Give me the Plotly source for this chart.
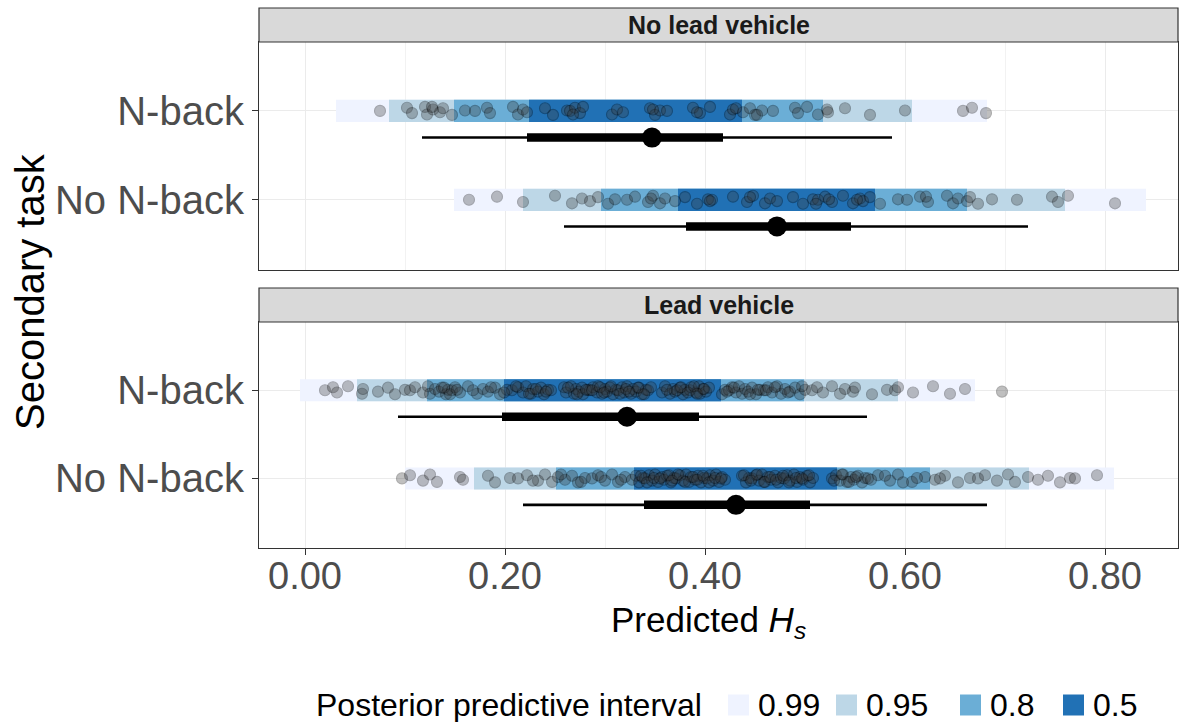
import plotly.graph_objects as go

# ---------------- data ----------------
facets = ["No lead vehicle", "Lead vehicle"]
categories = ["N-back", "No N-back"]
levels = ["0.99", "0.95", "0.8", "0.5"]
level_colors = ["#EFF3FF", "#BDD7E7", "#6BAED6", "#2171B5"]
legend_title = "Posterior predictive interval"

# posterior predictive intervals (lower, upper) for levels 0.99, 0.95, 0.8, 0.5
ppi_nolead_nback = [(0.031, 0.682), (0.084, 0.607), (0.149, 0.518), (0.224, 0.437)]
ppi_nolead_nonback = [(0.149, 0.841), (0.218, 0.760), (0.296, 0.662), (0.373, 0.570)]
ppi_lead_nback = [(-0.005, 0.670), (0.052, 0.593), (0.122, 0.499), (0.199, 0.416)]
ppi_lead_nonback = [(0.100, 0.809), (0.169, 0.724), (0.251, 0.625), (0.329, 0.532)]

# point intervals: (median, lo66, hi66, lo95, hi95)
pi_nolead_nback = (0.347, 0.222, 0.418, 0.117, 0.587)
pi_nolead_nonback = (0.472, 0.381, 0.546, 0.259, 0.723)
pi_lead_nback = (0.322, 0.197, 0.394, 0.093, 0.562)
pi_lead_nonback = (0.431, 0.339, 0.505, 0.218, 0.682)

# observed values
obs_nolead_nback = [0.075, 0.102, 0.107, 0.120, 0.122, 0.128, 0.135, 0.138, 0.147, 0.160,
                    0.170, 0.182, 0.185, 0.208, 0.213, 0.218, 0.222, 0.240, 0.248, 0.262,
                    0.265, 0.270, 0.275, 0.278, 0.307, 0.312, 0.318, 0.345, 0.350, 0.355,
                    0.362, 0.388, 0.395, 0.405, 0.425, 0.428, 0.438, 0.445, 0.450, 0.457,
                    0.468, 0.490, 0.493, 0.502, 0.513, 0.522, 0.523, 0.540, 0.565, 0.600,
                    0.658, 0.667, 0.681, 0.127, 0.268, 0.348, 0.392, 0.431, 0.452]
obs_nolead_nonback = [0.164, 0.192, 0.218, 0.250, 0.267, 0.277, 0.285, 0.293, 0.303, 0.310,
                      0.322, 0.330, 0.343, 0.348, 0.355, 0.360, 0.370, 0.380, 0.392, 0.403,
                      0.407, 0.428, 0.442, 0.448, 0.460, 0.465, 0.472, 0.488, 0.498, 0.508,
                      0.513, 0.520, 0.527, 0.538, 0.548, 0.555, 0.558, 0.565, 0.575, 0.593,
                      0.602, 0.615, 0.623, 0.642, 0.648, 0.653, 0.662, 0.665, 0.673, 0.687,
                      0.712, 0.747, 0.753, 0.763, 0.810, 0.346, 0.405, 0.445, 0.511, 0.524,
                      0.552, 0.621]
obs_lead_nback = [0.020, 0.028, 0.032, 0.043, 0.057, 0.058, 0.073, 0.083, 0.090, 0.100,
                  0.105, 0.110, 0.118, 0.123, 0.125, 0.130, 0.134, 0.137, 0.141, 0.143,
                  0.147, 0.150, 0.155, 0.163, 0.172, 0.178, 0.183, 0.190, 0.195, 0.202,
                  0.207, 0.213, 0.218, 0.221, 0.226, 0.228, 0.233, 0.236, 0.239, 0.243,
                  0.246, 0.259, 0.261, 0.266, 0.269, 0.271, 0.274, 0.277, 0.278, 0.283,
                  0.285, 0.288, 0.292, 0.293, 0.297, 0.300, 0.302, 0.305, 0.308, 0.311,
                  0.313, 0.317, 0.319, 0.322, 0.326, 0.328, 0.331, 0.334, 0.337, 0.341,
                  0.343, 0.346, 0.357, 0.360, 0.365, 0.368, 0.370, 0.375, 0.378, 0.380,
                  0.385, 0.386, 0.391, 0.394, 0.395, 0.398, 0.401, 0.404, 0.417, 0.420,
                  0.424, 0.427, 0.431, 0.434, 0.437, 0.440, 0.443, 0.447, 0.451, 0.455,
                  0.459, 0.463, 0.467, 0.472, 0.476, 0.480, 0.485, 0.490, 0.495, 0.500,
                  0.507, 0.512, 0.518, 0.527, 0.535, 0.540, 0.548, 0.550, 0.567, 0.582,
                  0.590, 0.593, 0.608, 0.628, 0.645, 0.660, 0.697,
                  0.139, 0.145, 0.152, 0.168, 0.186, 0.199, 0.211, 0.224, 0.231, 0.241,
                  0.263, 0.272, 0.281, 0.287, 0.295, 0.299, 0.306, 0.315, 0.321, 0.324,
                  0.333, 0.339, 0.362, 0.372, 0.376, 0.383, 0.389, 0.392, 0.399, 0.422,
                  0.429, 0.445, 0.453, 0.461, 0.470, 0.483, 0.497]
obs_lead_nonback = [0.097, 0.105, 0.118, 0.125, 0.132, 0.155, 0.158, 0.183, 0.190, 0.205,
                    0.213, 0.222, 0.233, 0.240, 0.247, 0.253, 0.260, 0.267, 0.273, 0.280,
                    0.287, 0.293, 0.300, 0.307, 0.313, 0.320, 0.327, 0.331, 0.334, 0.338,
                    0.340, 0.344, 0.347, 0.350, 0.353, 0.357, 0.359, 0.362, 0.366, 0.369,
                    0.371, 0.375, 0.378, 0.381, 0.384, 0.386, 0.390, 0.393, 0.396, 0.399,
                    0.402, 0.405, 0.408, 0.411, 0.414, 0.417, 0.420, 0.437, 0.441, 0.444,
                    0.447, 0.451, 0.454, 0.457, 0.460, 0.463, 0.466, 0.470, 0.473, 0.476,
                    0.479, 0.482, 0.485, 0.489, 0.492, 0.495, 0.498, 0.502, 0.505, 0.508,
                    0.527, 0.531, 0.535, 0.538, 0.542, 0.546, 0.549, 0.553, 0.557, 0.560,
                    0.563, 0.573, 0.585, 0.593, 0.607, 0.620, 0.630, 0.640, 0.653, 0.665,
                    0.673, 0.680, 0.692, 0.703, 0.710, 0.723, 0.733, 0.743, 0.755, 0.765,
                    0.770, 0.792,
                    0.228, 0.256, 0.276, 0.296, 0.316, 0.336, 0.342, 0.349, 0.355, 0.364,
                    0.367, 0.373, 0.380, 0.388, 0.392, 0.398, 0.404, 0.410, 0.416, 0.439,
                    0.446, 0.452, 0.459, 0.465, 0.471, 0.478, 0.484, 0.491, 0.497, 0.504,
                    0.529, 0.537, 0.544, 0.551, 0.566, 0.580, 0.598, 0.612, 0.635]

x_ticks = [0.0, 0.2, 0.4, 0.6, 0.8]

# ---------------- styling ----------------
FONT = "Liberation Sans, Arial, Helvetica, sans-serif"
W, H = 1181, 722
cat_y = {"N-back": 2, "No N-back": 1}
BAR_W = 0.25
PI_OFFSET = -0.30
JITTER = [0.0, 0.035, -0.025, 0.045, -0.04, 0.015, -0.015, 0.03, -0.045, 0.005]

panels = [
    ("x", "y", {"N-back": (ppi_nolead_nback, pi_nolead_nback, obs_nolead_nback),
                "No N-back": (ppi_nolead_nonback, pi_nolead_nonback, obs_nolead_nonback)}),
    ("x2", "y2", {"N-back": (ppi_lead_nback, pi_lead_nback, obs_lead_nback),
                  "No N-back": (ppi_lead_nonback, pi_lead_nonback, obs_lead_nonback)}),
]

fig = go.Figure()

for xa, ya, data in panels:
    for li, lev in enumerate(levels):
        ys, bases, lens = [], [], []
        for cat in categories:
            lo, hi = data[cat][0][li]
            ys.append(cat_y[cat])
            bases.append(lo)
            lens.append(hi - lo)
        fig.add_trace(go.Bar(orientation="h", y=ys, x=lens, base=bases, width=BAR_W,
                             marker=dict(color=level_colors[li], line=dict(width=0)),
                             xaxis=xa, yaxis=ya, showlegend=False, hoverinfo="skip"))
    for cat in categories:
        vals = data[cat][2]
        yy = [cat_y[cat] + JITTER[i % len(JITTER)] for i in range(len(vals))]
        fig.add_trace(go.Scatter(x=vals, y=yy, mode="markers",
                                 marker=dict(size=11, color="#3A3A3A", opacity=0.32,
                                             line=dict(color="#000000", width=1.1)),
                                 xaxis=xa, yaxis=ya, showlegend=False, hoverinfo="skip"))
    for cat in categories:
        med, lo66, hi66, lo95, hi95 = data[cat][1]
        yv = cat_y[cat] + PI_OFFSET
        fig.add_trace(go.Scatter(x=[lo95, hi95], y=[yv, yv], mode="lines",
                                 line=dict(color="black", width=2.6),
                                 xaxis=xa, yaxis=ya, showlegend=False, hoverinfo="skip"))
        fig.add_trace(go.Scatter(x=[lo66, hi66], y=[yv, yv], mode="lines",
                                 line=dict(color="black", width=8.5),
                                 xaxis=xa, yaxis=ya, showlegend=False, hoverinfo="skip"))
        fig.add_trace(go.Scatter(x=[med], y=[yv], mode="markers",
                                 marker=dict(color="black", size=20),
                                 xaxis=xa, yaxis=ya, showlegend=False, hoverinfo="skip"))

XDOM = [259 / W, 1178 / W]
TOP_DOM = [(H - 270) / H, (H - 42) / H]
BOT_DOM = [(H - 548) / H, (H - 322) / H]
XRANGE = [-0.046, 0.873]
YRANGE = [0.21, 2.775]

common_x = dict(range=XRANGE, domain=XDOM, tickvals=x_ticks, tickformat=".2f",
                showgrid=True, gridcolor="#EBEBEB", gridwidth=1.4, zeroline=False,
                showline=True, mirror=True, linecolor="#333333", linewidth=1.2,
                minor=dict(dtick=0.1, tick0=0, showgrid=True, gridcolor="#F2F2F2", gridwidth=0.8),
                tickfont=dict(size=38, color="#4D4D4D", family=FONT))
common_y = dict(range=YRANGE, tickvals=[1, 2], ticktext=["No N-back", "N-back"],
                showgrid=True, gridcolor="#EBEBEB", gridwidth=1.4, zeroline=False,
                showline=True, mirror=True, linecolor="#333333", linewidth=1.2,
                ticks="outside", ticklen=6, tickcolor="#333333", tickwidth=1.2,
                tickfont=dict(size=40, color="#4D4D4D", family=FONT))

fig.update_layout(
    width=W, height=H, autosize=False,
    margin=dict(l=0, r=0, t=0, b=0, autoexpand=False),
    paper_bgcolor="white", plot_bgcolor="white",
    barmode="overlay",
    font=dict(family=FONT, color="black"),
    xaxis=dict(**common_x, anchor="y", showticklabels=False, ticks=""),
    yaxis=dict(**common_y, domain=TOP_DOM, anchor="x"),
    xaxis2=dict(**common_x, anchor="y2", matches="x", ticks="outside", ticklen=6,
                tickcolor="#333333", tickwidth=1.2, ticklabelstandoff=-12),
    yaxis2=dict(**common_y, domain=BOT_DOM, anchor="x2"),
    showlegend=False,
)

# facet strips
strips = [(facets[0], (H - 42) / H, (H - 8) / H),
          (facets[1], (H - 322) / H, (H - 288) / H)]
for label, y0, y1 in strips:
    fig.add_shape(type="rect", xref="paper", yref="paper", x0=XDOM[0], x1=XDOM[1], y0=y0, y1=y1,
                  fillcolor="#D9D9D9", line=dict(color="#333333", width=1.2), layer="above")
    fig.add_annotation(text="<b>%s</b>" % label, xref="paper", yref="paper",
                       x=(XDOM[0] + XDOM[1]) / 2, y=(y0 + y1) / 2, showarrow=False,
                       xanchor="center", yanchor="middle",
                       font=dict(size=25, color="#1A1A1A", family=FONT))

# axis titles
fig.add_annotation(text="Predicted <i>H</i><sub><i>s</i></sub>", xref="paper", yref="paper",
                   x=708 / W, y=(H - 622) / H, showarrow=False,
                   xanchor="center", yanchor="middle",
                   font=dict(size=35, color="black", family=FONT))
fig.add_annotation(text="Secondary task", xref="paper", yref="paper",
                   x=30 / W, y=(H - 292) / H, showarrow=False, textangle=-90,
                   xanchor="center", yanchor="middle",
                   font=dict(size=40, color="black", family=FONT))

# legend (drawn manually, ggplot-style bottom legend)
LEG_Y = (H - 705) / H
fig.add_annotation(text=legend_title, xref="paper", yref="paper", x=314 / W, y=LEG_Y,
                   showarrow=False, xanchor="left", yanchor="middle",
                   font=dict(size=32, color="black", family=FONT))
key_left = [728, 836, 960, 1063]
KEY = 21
for lev, col, kx in zip(levels, level_colors, key_left):
    fig.add_shape(type="rect", xref="paper", yref="paper",
                  x0=kx / W, x1=(kx + KEY) / W,
                  y0=(H - 705 - KEY / 2) / H, y1=(H - 705 + KEY / 2) / H,
                  fillcolor=col, line=dict(width=0))
    fig.add_annotation(text=lev, xref="paper", yref="paper", x=(kx + KEY + 7) / W, y=LEG_Y,
                       showarrow=False, xanchor="left", yanchor="middle",
                       font=dict(size=32, color="black", family=FONT))

fig.write_html("out.html")
